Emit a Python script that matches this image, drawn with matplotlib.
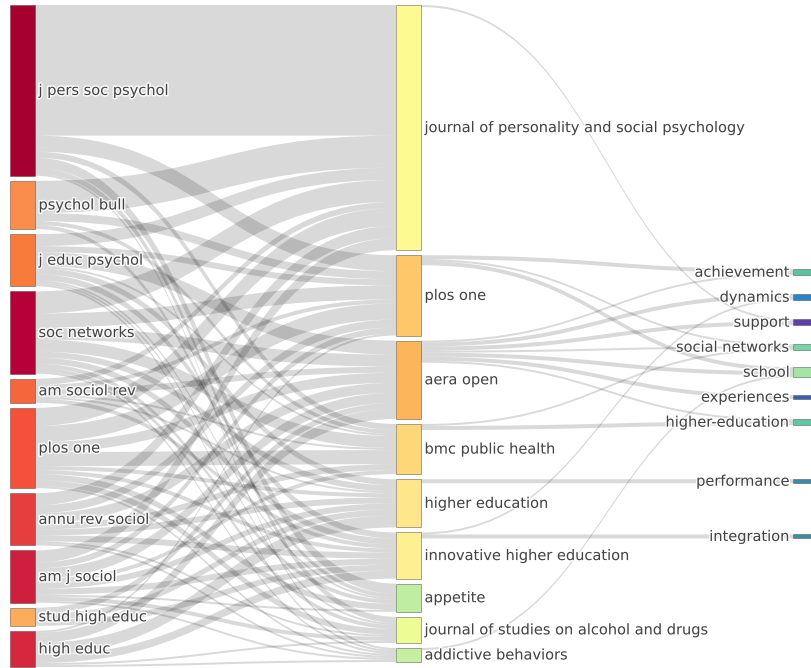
import numpy as np
import matplotlib
matplotlib.use('Agg')
import matplotlib.pyplot as plt
from matplotlib.path import Path
from matplotlib.patches import PathPatch, Rectangle
import matplotlib.patheffects as pe

# three fields: cited sources -> sources -> keywords
cited = ['j pers soc psychol', 'psychol bull', 'j educ psychol', 'soc networks',
         'am sociol rev', 'plos one', 'annu rev sociol', 'am j sociol',
         'stud high educ', 'high educ']
sources = ['journal of personality and social psychology', 'plos one', 'aera open',
           'bmc public health', 'higher education', 'innovative higher education',
           'appetite', 'journal of studies on alcohol and drugs', 'addictive behaviors']
keywords = ['achievement', 'dynamics', 'support', 'social networks', 'school',
            'experiences', 'higher-education', 'performance', 'integration']

# rows: cited source, columns: source (same order as the lists above)
cites = [
    [65, 8, 0, 3, 0, 0, 5, 3, 1],
    [16, 4, 0, 2, 0, 0, 2, 0, 0],
    [6, 3, 7, 1, 3, 3, 1, 1, 1],
    [11, 7, 6, 6, 3, 3, 2, 2, 1],
    [3, 2, 3, 1, 1, 2, 0, 0, 0],
    [9, 8, 5, 7, 2, 2, 3, 3, 1],
    [6, 4, 5, 3, 3, 3, 0, 1, 1],
    [6, 3, 5, 2, 3, 3, 1, 2, 1],
    [0, 0, 3, 0, 3, 3, 0, 0, 0],
    [0, 1, 5, 0, 6, 4, 0, 1, 1],
]

# source -> keyword links
kw_from = [0, 1, 1, 1, 2, 2, 2, 2, 2, 2, 2, 3, 3, 4, 5, 5, 8]
kw_to = [2, 0, 3, 4, 0, 1, 2, 3, 4, 5, 6, 3, 6, 7, 1, 8, 4]
kw_val = [1, 2, 1, 2, 1, 2, 2, 1, 2, 2, 1, 1, 2, 2, 1, 2, 1]

cited_colors = ['#a50030', '#fa8c4c', '#f87b3c', '#b5003a', '#f7663a',
                '#f4503a', '#e63e3f', '#cf1f3e', '#fdac5e', '#d5283e']
source_colors = ['#fefa92', '#fdc76a', '#fdb55a', '#fed878', '#fee68a',
                 '#fef090', '#c0eea0', '#eefc96', '#c6efa2']
keyword_colors = ['#5cc3a0', '#2b83c4', '#5e3fa8', '#78d4a8', '#a4e4a4',
                  '#3b62a8', '#5ec8a2', '#3a8aa8', '#3d8fa0']

W, H = 811, 668
TOP, BOTTOM = 5, 667
PAD = 5
NODE_W = 25
COL_X = [10, 396, 793]
KW_SPACING = 25
LINK_COLOR = (0, 0, 0, 0.15)
TEXT_COLOR = '#444444'
FONT_SIZE = 10.5


def stack(values, ky):
    y0 = []
    y = TOP
    for v in values:
        y0.append(y)
        y += v * ky + PAD
    return np.array(y0)


def ordered_positions(targets, weights, spacing):
    # least squares fit of targets keeping the order and a minimum spacing
    s = [t - spacing * i for i, t in enumerate(targets)]
    blocks = []
    for v, w in zip(s, weights):
        blocks.append([v, w, 1])
        while len(blocks) > 1 and blocks[-2][0] > blocks[-1][0]:
            v2, w2, n2 = blocks.pop()
            v1, w1, n1 = blocks.pop()
            blocks.append([(v1 * w1 + v2 * w2) / (w1 + w2), w1 + w2, n1 + n2])
    out = []
    for v, w, n in blocks:
        out += [v] * n
    return np.array([v + spacing * i for i, v in enumerate(out)])


def band(ax, x0, ya, yb, x1, yc, yd):
    xm = (x0 + x1) / 2
    verts = [(x0, ya), (xm, ya), (xm, yc), (x1, yc),
             (x1, yd), (xm, yd), (xm, yb), (x0, yb), (x0, ya)]
    codes = [Path.MOVETO, Path.CURVE4, Path.CURVE4, Path.CURVE4,
             Path.LINETO, Path.CURVE4, Path.CURVE4, Path.CURVE4, Path.CLOSEPOLY]
    ax.add_patch(PathPatch(Path(verts, codes), facecolor=LINK_COLOR,
                           edgecolor='none', lw=0, zorder=1))


m = np.array(cites, dtype=float)
left_val = m.sum(axis=1)
mid_in = m.sum(axis=0)
mid_out = np.zeros(len(sources))
kw_total = np.zeros(len(keywords))
for s, t, v in zip(kw_from, kw_to, kw_val):
    mid_out[s] += v
    kw_total[t] += v
mid_val = np.maximum(mid_in, mid_out)

span = BOTTOM - TOP
ky = min((span - (len(left_val) - 1) * PAD) / left_val.sum(),
         (span - (len(mid_val) - 1) * PAD) / mid_val.sum())

left_y = stack(left_val, ky)
mid_y = stack(mid_val, ky)

# where each keyword link leaves its source (sorted by keyword order)
out_off = {}
cursor = mid_y.copy()
for k in sorted(range(len(kw_from)), key=lambda k: (kw_from[k], kw_to[k])):
    out_off[k] = cursor[kw_from[k]]
    cursor[kw_from[k]] += kw_val[k] * ky

# offset of each link inside its keyword node (sorted by source order)
in_off = {}
acc = np.zeros(len(keywords))
for k in sorted(range(len(kw_from)), key=lambda k: (kw_to[k], kw_from[k])):
    in_off[k] = acc[kw_to[k]]
    acc[kw_to[k]] += kw_val[k] * ky

# keyword node tops relaxed towards their sources, then kept in order
targets = []
for j in range(len(keywords)):
    ks = [k for k in range(len(kw_from)) if kw_to[k] == j]
    w = sum(kw_val[k] for k in ks)
    top = sum((out_off[k] - in_off[k]) * kw_val[k] for k in ks) / w
    targets.append(top + kw_total[j] * ky / 2)
kw_center = ordered_positions(targets, kw_total, KW_SPACING)
kw_y = kw_center - kw_total * ky / 2

fig = plt.figure(figsize=(W / 100, H / 100), dpi=100)
ax = fig.add_axes([0, 0, 1, 1])
ax.set_xlim(0, W)
ax.set_ylim(H, 0)
ax.axis('off')

# cited -> source bands: leave in source order, arrive in cited order
src_off = np.zeros_like(m)
tgt_off = np.zeros_like(m)
for i in range(len(cited)):
    y = left_y[i]
    for j in range(len(sources)):
        src_off[i, j] = y
        y += m[i, j] * ky
for j in range(len(sources)):
    y = mid_y[j]
    for i in range(len(cited)):
        tgt_off[i, j] = y
        y += m[i, j] * ky

x_l = COL_X[0] + NODE_W
x_m = COL_X[1]
for i in range(len(cited)):
    for j in range(len(sources)):
        if m[i, j] <= 0:
            continue
        h = m[i, j] * ky
        band(ax, x_l, src_off[i, j], src_off[i, j] + h,
             x_m, tgt_off[i, j], tgt_off[i, j] + h)

# source -> keyword bands
for k in range(len(kw_from)):
    h = kw_val[k] * ky
    y0 = out_off[k]
    y1 = kw_y[kw_to[k]] + in_off[k]
    band(ax, COL_X[1] + NODE_W, y0, y0 + h, COL_X[2], y1, y1 + h)

halo = [pe.withStroke(linewidth=2.2, foreground='white', alpha=0.85)]


def draw_nodes(names, ys, vals, colors, x, side):
    for name, y, v, c in zip(names, ys, vals, colors):
        h = v * ky
        ax.add_patch(Rectangle((x, y), NODE_W, h, facecolor=c,
                               edgecolor=(0.27, 0.27, 0.27, 0.55), lw=0.6, zorder=3))
        if side == 'right':
            ax.text(x + NODE_W + 3.5, y + h / 2, name, ha='left', va='center',
                    fontsize=FONT_SIZE, color=TEXT_COLOR, path_effects=halo, zorder=4)
        else:
            ax.text(x - 3, y + h / 2, name, ha='right', va='center',
                    fontsize=FONT_SIZE, color=TEXT_COLOR, path_effects=halo, zorder=4)


draw_nodes(cited, left_y, left_val, cited_colors, COL_X[0], 'right')
draw_nodes(sources, mid_y, mid_val, source_colors, COL_X[1], 'right')
draw_nodes(keywords, kw_y, kw_total, keyword_colors, COL_X[2], 'left')

fig.savefig('out.png', dpi=100, facecolor='white')
